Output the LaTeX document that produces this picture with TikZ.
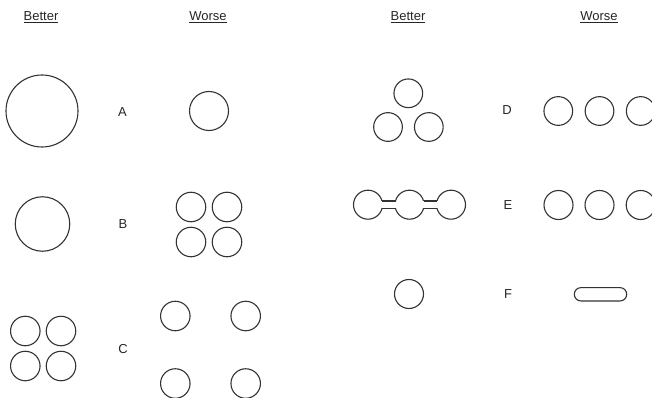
\documentclass[tikz,border=0pt]{standalone}
\usepackage{fontspec}
\setmainfont{Liberation Sans}
\begin{document}
\begin{tikzpicture}[x=1pt,y=-1pt,
  circ/.style={draw=black!80, circle, inner sep=0pt, line width=1.1pt},
  lbl/.style={font=\fontsize{13}{15}\selectfont, text=black!85, inner sep=0pt},
  head/.style={font=\fontsize{13}{15}\selectfont, text=black!85, inner sep=0pt},
  neck/.style={draw=black!80, line width=1.1pt}]
\useasboundingbox (0,0) rectangle (652,398);
\clip (0,0) rectangle (652,398);
% headers
\node[head] (h1) at (41,17) {\underline{Better}};
\node[head] (h2) at (208,17) {\underline{Worse}};
\node[head] (h3) at (408,17) {\underline{Better}};
\node[head] (h4) at (599,17) {\underline{Worse}};
% letters
\node[lbl] (lA) at (122.5,112) {A};
\node[lbl] (lB) at (123,224) {B};
\node[lbl] (lC) at (123,349) {C};
\node[lbl] (lD) at (507,110) {D};
\node[lbl] (lE) at (508,205) {E};
\node[lbl] (lF) at (508,294) {F};
% A
\node[circ, minimum size=72pt] (a1) at (42,111) {};
\node[circ, minimum size=39pt] (a2) at (209,111) {};
% B
\node[circ, minimum size=54.5pt] (b1) at (42.5,224) {};
\node[circ, minimum size=29.5pt] (b2) at (191,207) {};
\node[circ, minimum size=29.5pt] (b3) at (227,207) {};
\node[circ, minimum size=29.5pt] (b4) at (191,242) {};
\node[circ, minimum size=29.5pt] (b5) at (227,242) {};
% C
\node[circ, minimum size=29.5pt] (c1) at (25.3,331) {};
\node[circ, minimum size=29.5pt] (c2) at (61,331) {};
\node[circ, minimum size=29.5pt] (c3) at (25.3,366) {};
\node[circ, minimum size=29.5pt] (c4) at (61,366) {};
\node[circ, minimum size=29.5pt] (c5) at (175.3,316) {};
\node[circ, minimum size=29.5pt] (c6) at (245.7,316) {};
\node[circ, minimum size=29.5pt] (c7) at (175.3,383.5) {};
\node[circ, minimum size=29.5pt] (c8) at (245.7,383.5) {};
% D
\node[circ, minimum size=28.7pt] (d1) at (408.3,93.3) {};
\node[circ, minimum size=28.7pt] (d2) at (388,127) {};
\node[circ, minimum size=28.7pt] (d3) at (428.8,127) {};
\node[circ, minimum size=28.7pt] (d4) at (558.3,111) {};
\node[circ, minimum size=28.7pt] (d5) at (599.5,111) {};
\node[circ, minimum size=28.7pt] (d6) at (640.7,111) {};
% E
\node[circ, minimum size=29pt] (e1) at (368,204.7) {};
\node[circ, minimum size=29pt] (e2) at (409.5,204.7) {};
\node[circ, minimum size=29pt] (e3) at (451,204.7) {};
\fill[white] ([xshift=-2.4pt,yshift=-3.7pt]e1.east) rectangle ([xshift=2.4pt,yshift=3.7pt]e2.west);
\fill[white] ([xshift=-2.4pt,yshift=-3.7pt]e2.east) rectangle ([xshift=2.4pt,yshift=3.7pt]e3.west);
\draw[neck] ([xshift=-1.05pt,yshift=3.7pt]e1.east) -- ([xshift=1.05pt,yshift=3.7pt]e2.west);
\draw[neck] ([xshift=-1.05pt,yshift=-3.7pt]e1.east) -- ([xshift=1.05pt,yshift=-3.7pt]e2.west);
\draw[neck] ([xshift=-1.05pt,yshift=3.7pt]e2.east) -- ([xshift=1.05pt,yshift=3.7pt]e3.west);
\draw[neck] ([xshift=-1.05pt,yshift=-3.7pt]e2.east) -- ([xshift=1.05pt,yshift=-3.7pt]e3.west);
\node[circ, minimum size=29pt] (e4) at (558.5,205) {};
\node[circ, minimum size=29pt] (e5) at (599.5,205) {};
\node[circ, minimum size=29pt] (e6) at (640.7,205) {};
% F
\node[circ, minimum size=29pt] (f1) at (409,294) {};
\node[draw=black!80, line width=1.1pt, rectangle, rounded corners=6.6pt, inner sep=0pt,
      minimum width=52.4pt, minimum height=13.3pt] (f2) at (600.5,294.3) {};
\end{tikzpicture}
\end{document}
